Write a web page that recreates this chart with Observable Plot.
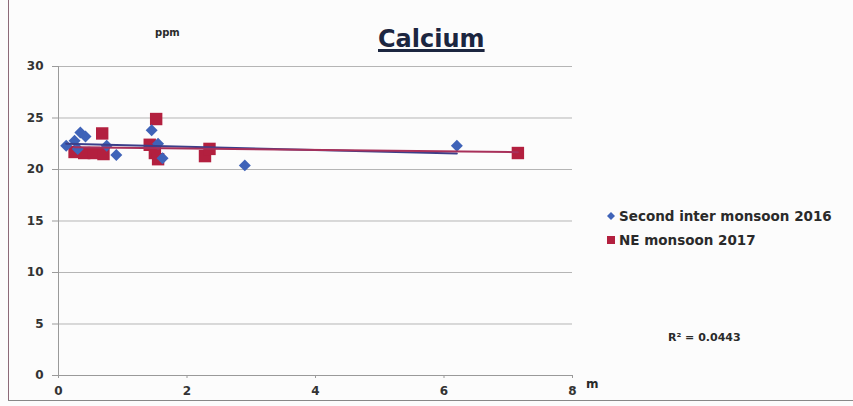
<!DOCTYPE html>
<html><head><meta charset="utf-8">
<script src="https://cdn.jsdelivr.net/npm/d3@7"></script>
<script src="https://cdn.jsdelivr.net/npm/@observablehq/plot@0.6"></script>
<style>
body{margin:0;background:#fff;}
#wrap{position:relative;width:853px;height:406px;overflow:hidden;background:#fcfcfc;font-family:"DejaVu Sans",sans-serif;}
#wrap > svg{position:absolute;left:0;top:0;}
.t{position:absolute;white-space:nowrap;color:#2a2a2a;font-weight:bold;}
#title{left:378px;top:27px;font-size:24px;line-height:24px;color:#1c2640;text-decoration:underline;text-decoration-thickness:3px;text-underline-offset:2px;}
#ppm{left:155px;top:28px;font-size:10px;line-height:10px;}
#munit{left:586px;top:378px;font-size:12px;line-height:12px;}
#r2{left:668px;top:332px;font-size:11px;line-height:11px;}
.leg{position:absolute;left:606px;font-size:13.5px;line-height:14px;display:flex;align-items:center;font-weight:bold;color:#2a2a2a;font-family:"DejaVu Sans",sans-serif;white-space:nowrap;}
#wrap .leg svg{position:static;margin-right:3px;}
#bl{position:absolute;left:8px;top:0;width:1px;height:400px;background:#8c6a78;}
#bb{position:absolute;left:8px;top:400px;width:845px;height:1px;background:#888;}
</style></head><body><div id="wrap"></div>
<script>
const seriesNames = ["Second inter monsoon 2016", "NE monsoon 2017"];
// Second inter monsoon 2016 (blue diamonds)
const interX = [0.12, 0.25, 0.34, 0.42, 0.30, 0.75, 0.90, 1.45, 1.55, 1.62, 2.90, 6.20];
const interY = [22.3, 22.8, 23.6, 23.2, 22.0, 22.3, 21.4, 23.8, 22.5, 21.1, 20.4, 22.3];
// NE monsoon 2017 (red squares)
const neX = [0.25, 0.40, 0.55, 0.70, 0.68, 1.42, 1.50, 1.55, 1.52, 2.28, 2.35, 7.15];
const neY = [21.7, 21.6, 21.6, 21.5, 23.5, 22.4, 21.6, 21.0, 24.9, 21.3, 22.0, 21.6];
const yTicks = [0, 5, 10, 15, 20, 25, 30];
const xTicks = [0, 2, 4, 6, 8];
const titleText = "Calcium";
const yUnit = "ppm";
const xUnit = "m";
const r2Label = "R² = 0.0443";

const blue = "#3f63b8";
const red = "#b3203f";

const inter = interX.map((x, i) => ({x, y: interY[i]}));
const ne = neX.map((x, i) => ({x, y: neY[i]}));

const chart = Plot.plot({
  width: 853, height: 406,
  marginLeft: 58, marginRight: 281, marginTop: 66, marginBottom: 31,
  style: {background: "transparent", fontFamily: "DejaVu Sans, sans-serif"},
  x: {domain: [0, 8]},
  y: {domain: [0, 30]},
  marks: [
    Plot.gridY(yTicks, {stroke: "#b5b5b5", strokeOpacity: 1}),
    Plot.ruleX([0], {stroke: "#9a9a9a"}),
    Plot.ruleY([0], {stroke: "#9a9a9a"}),
    Plot.axisY(yTicks, {tickSize: 6, tickPadding: 9, fontSize: 12, fontWeight: "bold", fill: "#333", stroke: "#9a9a9a", label: null}),
    Plot.axisX(xTicks, {tickSize: 3, tickPadding: 8, fontSize: 12, fontWeight: "bold", fill: "#333", stroke: "#9a9a9a", label: null}),
    Plot.dot(ne, {x: "x", y: "y", symbol: "square", r: 7, fill: red, stroke: "none"}),
    Plot.dot(inter, {x: "x", y: "y", symbol: "diamond2", r: 5.4, fill: blue, stroke: "none"}),
    Plot.linearRegressionY(inter, {x: "x", y: "y", ci: 0, stroke: "#3b3f8a", strokeWidth: 2}),
    Plot.linearRegressionY(ne, {x: "x", y: "y", ci: 0, stroke: "#a8305a", strokeWidth: 2})
  ]
});

const wrap = document.getElementById("wrap");
wrap.appendChild(chart);

function addText(id, txt, cls) {
  const d = document.createElement("div");
  d.id = id; d.className = cls || "t"; d.textContent = txt;
  wrap.appendChild(d); return d;
}
addText("title", titleText);
addText("ppm", yUnit);
addText("munit", xUnit);
addText("r2", r2Label);

function legendItem(top, name, kind, color) {
  const d = document.createElement("div");
  d.className = "leg"; d.style.top = top + "px";
  const ns = "http://www.w3.org/2000/svg";
  const s = document.createElementNS(ns, "svg");
  s.setAttribute("width", 10); s.setAttribute("height", 10);
  const p = document.createElementNS(ns, "path");
  p.setAttribute("d", kind === "d" ? "M5,1L9,5L5,9L1,5Z" : "M1,1H9V9H1Z");
  p.setAttribute("fill", color);
  s.appendChild(p); d.appendChild(s);
  const sp = document.createElement("span"); sp.textContent = name; d.appendChild(sp);
  wrap.appendChild(d);
}
legendItem(209, seriesNames[0], "d", blue);
legendItem(233, seriesNames[1], "s", red);

const bl = document.createElement("div"); bl.id = "bl"; wrap.appendChild(bl);
const bb = document.createElement("div"); bb.id = "bb"; wrap.appendChild(bb);
</script>
</body></html>
